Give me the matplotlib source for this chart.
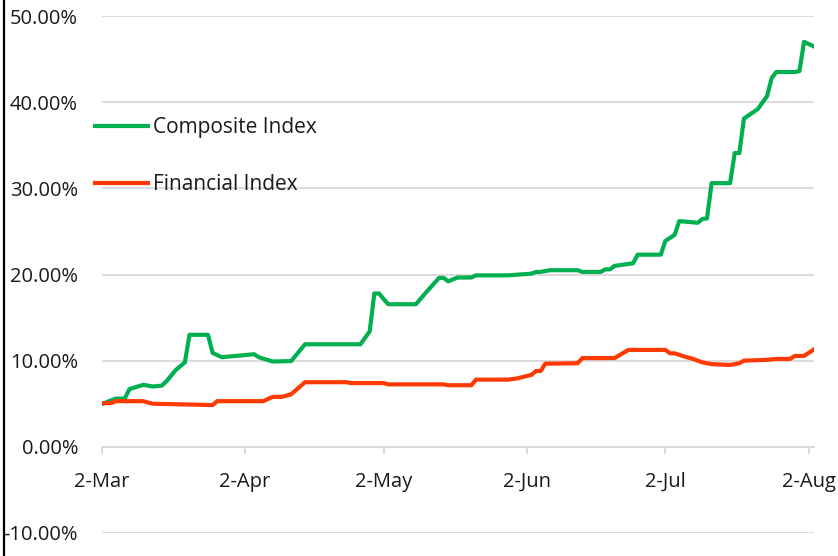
import matplotlib
matplotlib.use("Agg")
import matplotlib.pyplot as plt
import matplotlib.dates as mdates
from matplotlib.lines import Line2D
import numpy as np

# ---- data ----
composite_dates = [
    "2020-03-02", "2020-03-05", "2020-03-07", "2020-03-08", "2020-03-11", "2020-03-13",
    "2020-03-15", "2020-03-16", "2020-03-18", "2020-03-20", "2020-03-21", "2020-03-25",
    "2020-03-26", "2020-03-28", "2020-04-04", "2020-04-05", "2020-04-08", "2020-04-12",
    "2020-04-15", "2020-04-27", "2020-04-29", "2020-04-30", "2020-05-01", "2020-05-03",
    "2020-05-09", "2020-05-11", "2020-05-14", "2020-05-15", "2020-05-16", "2020-05-18",
    "2020-05-21", "2020-05-22", "2020-05-29", "2020-06-03", "2020-06-04", "2020-06-05",
    "2020-06-07", "2020-06-13", "2020-06-14", "2020-06-18", "2020-06-19", "2020-06-20",
    "2020-06-21", "2020-06-25", "2020-06-26", "2020-07-01", "2020-07-02", "2020-07-04",
    "2020-07-05", "2020-07-09", "2020-07-10", "2020-07-11", "2020-07-12", "2020-07-16",
    "2020-07-17", "2020-07-18", "2020-07-19", "2020-07-22", "2020-07-24", "2020-07-25",
    "2020-07-26", "2020-07-30", "2020-07-31", "2020-08-01", "2020-08-03",
]
composite_values = [
    4.95, 5.6, 5.6, 6.7, 7.2, 7.0,
    7.1, 7.6, 8.9, 9.8, 13.0, 13.0,
    10.9, 10.4, 10.75, 10.4, 9.9, 9.95,
    11.9, 11.9, 13.4, 17.8, 17.8, 16.55,
    16.55, 17.8, 19.6, 19.6, 19.2, 19.65,
    19.65, 19.9, 19.9, 20.1, 20.3, 20.3,
    20.5, 20.5, 20.3, 20.3, 20.6, 20.6,
    21.0, 21.3, 22.3, 22.3, 23.9, 24.6,
    26.2, 26.0, 26.45, 26.5, 30.6, 30.6,
    34.1, 34.1, 38.1, 39.2, 40.7, 42.8,
    43.5, 43.5, 43.6, 47.0, 46.5,
]

financial_dates = [
    "2020-03-02", "2020-03-04", "2020-03-05", "2020-03-11", "2020-03-13", "2020-03-26",
    "2020-03-27", "2020-04-06", "2020-04-08", "2020-04-10", "2020-04-12", "2020-04-15",
    "2020-04-24", "2020-04-25", "2020-05-02", "2020-05-03", "2020-05-15", "2020-05-16",
    "2020-05-21", "2020-05-22", "2020-05-29", "2020-05-31", "2020-06-03", "2020-06-04",
    "2020-06-05", "2020-06-06", "2020-06-13", "2020-06-14", "2020-06-21", "2020-06-24",
    "2020-07-02", "2020-07-03", "2020-07-04", "2020-07-06", "2020-07-08", "2020-07-10",
    "2020-07-12", "2020-07-16", "2020-07-18", "2020-07-19", "2020-07-24", "2020-07-26",
    "2020-07-29", "2020-07-30", "2020-08-01", "2020-08-03",
]
financial_values = [
    5.07, 5.07, 5.3, 5.3, 5.0, 4.85,
    5.3, 5.3, 5.8, 5.8, 6.1, 7.5,
    7.5, 7.4, 7.4, 7.25, 7.25, 7.15,
    7.15, 7.8, 7.8, 7.95, 8.35, 8.8,
    8.8, 9.65, 9.7, 10.3, 10.3, 11.25,
    11.25, 10.85, 10.85, 10.5, 10.2, 9.8,
    9.6, 9.5, 9.7, 10.0, 10.1, 10.2,
    10.2, 10.55, 10.55, 11.25,
]

series_names = ["Composite Index", "Financial Index"]
tick_dates = ["2020-03-02", "2020-04-02", "2020-05-02", "2020-06-02", "2020-07-02", "2020-08-02"]
tick_labels = ["2-Mar", "2-Apr", "2-May", "2-Jun", "2-Jul", "2-Aug"]
y_ticks = [-10, 0, 10, 20, 30, 40, 50]

# ---- figure ----
plt.rcParams["font.family"] = ["Open Sans", "DejaVu Sans"]
W, H = 838, 556
fig = plt.figure(figsize=(W / 100, H / 100), dpi=100)
left_px, right_px, top_px, bottom_px = 101.7, 813.5, 16, 533
ax = fig.add_axes([left_px / W, 1 - bottom_px / H, (right_px - left_px) / W, (bottom_px - top_px) / H])

cd = mdates.datestr2num(composite_dates)
fd = mdates.datestr2num(financial_dates)
green = "#00B050"
red = "#FF3A00"
ax.plot(cd, composite_values, color=green, lw=3.0, solid_joinstyle="round", label=series_names[0], zorder=3)
ax.plot(fd, financial_values, color=red, lw=3.0, solid_joinstyle="round", label=series_names[1], zorder=3)

ax.set_ylim(-10, 50)
ax.set_xlim(mdates.datestr2num("2020-03-02"), mdates.datestr2num("2020-08-02") + 1.05)
ax.set_yticks(y_ticks)
ax.set_yticklabels([f"{v:.2f}%" for v in y_ticks])
ax.yaxis.grid(True, color="#D9D9D9", lw=1.3)
ax.set_axisbelow(True)

ax.set_xticks(mdates.datestr2num(tick_dates))
ax.set_xticklabels(tick_labels)

text_color = "#1a1a1a"
for s in ["top", "right", "left"]:
    ax.spines[s].set_visible(False)
ax.spines["bottom"].set_position(("data", 0))
ax.spines["bottom"].set_color("#D9D9D9")
ax.spines["bottom"].set_linewidth(1.3)
ax.tick_params(axis="x", length=5, width=1.3, color="#D9D9D9", pad=13, labelsize=14.5, labelcolor=text_color)
ax.tick_params(axis="y", length=0, pad=17, labelsize=14.5, labelcolor=text_color)
for lbl in ax.get_xticklabels():
    lbl.set_clip_on(False)

leg = ax.legend(
    loc="upper left",
    bbox_to_anchor=(95 / W, 1 - 117 / H),
    bbox_transform=fig.transFigure,
    frameon=False,
    fontsize=15,
    handlelength=2.55,
    handletextpad=0.25,
    labelspacing=1.75,
    borderpad=0,
    borderaxespad=0,
)
for t in leg.get_texts():
    t.set_color(text_color)

fig.add_artist(Line2D([4 / W, 4 / W], [0, 1], color="black", lw=1.6, transform=fig.transFigure))

fig.savefig("out.png", dpi=100)
